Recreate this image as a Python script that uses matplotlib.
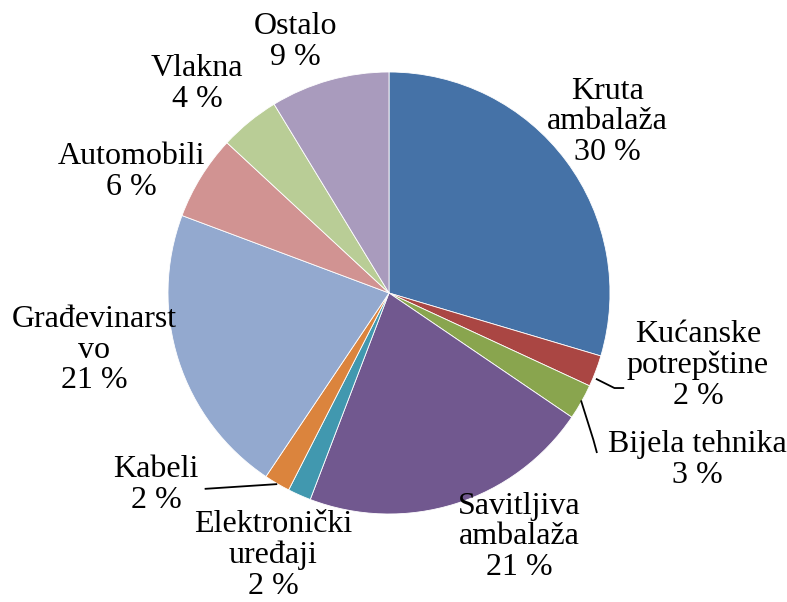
import matplotlib
matplotlib.use('Agg')
import matplotlib.pyplot as plt

# share of each sector, clockwise from 12 o'clock
names = ["Kruta\nambalaža", "Kućanske\npotrepštine", "Bijela tehnika",
         "Savitljiva\nambalaža", "Elektronički\nuređaji", "Kabeli",
         "Građevinarst\nvo", "Automobili", "Vlakna", "Ostalo"]
values = [29.6, 2.3, 2.6, 21.3, 1.7, 1.9, 21.3, 6.2, 4.4, 8.7]
colors = ["#4572A7", "#AA4643", "#89A54E", "#71588F", "#4198AF",
          "#DB843D", "#93A9CF", "#D19392", "#B9CD96", "#A99BBD"]

# label placement (data units, pie radius = 1)
label_pos = [(0.99, 0.774), (1.398, -0.326), (1.394, -0.756), (0.588, -1.104),
             (-0.525, -1.186), (-1.054, -0.869), (-1.335, -0.258),
             (-1.167, 0.548), (-0.869, 0.946), (-0.425, 1.136)]
# leader lines: wedge point -> line end
leaders = {1: ((0.94, -0.39), (1.02, -0.43), (1.06, -0.43)),
           2: ((0.87, -0.49), (0.925, -0.665), (0.94, -0.72)),
           5: ((-0.51, -0.865), (-0.83, -0.886), (-0.83, -0.886))}

fig = plt.figure(figsize=(7.87, 6.02), dpi=100)
ax = fig.add_axes([(389 - 221) / 787, (602 - 293 - 221) / 602, 442 / 787, 442 / 602])
ax.pie(values, colors=colors, startangle=90, counterclock=False, radius=1,
       wedgeprops=dict(edgecolor="white", linewidth=0.6))
ax.set_xlim(-1, 1)
ax.set_ylim(-1, 1)
ax.set_aspect("equal")
ax.axis("off")

for i, (name, v) in enumerate(zip(names, values)):
    x, y = label_pos[i]
    ax.text(x, y, f"{name}\n{round(v)} %", ha="center", va="center",
            family="Liberation Serif", fontsize=23, linespacing=1.08,
            clip_on=False)

for i, pts in leaders.items():
    xs = [p[0] for p in pts]
    ys = [p[1] for p in pts]
    ax.plot(xs, ys, color="black", linewidth=1.3, clip_on=False)

fig.savefig("out.png", dpi=100)
